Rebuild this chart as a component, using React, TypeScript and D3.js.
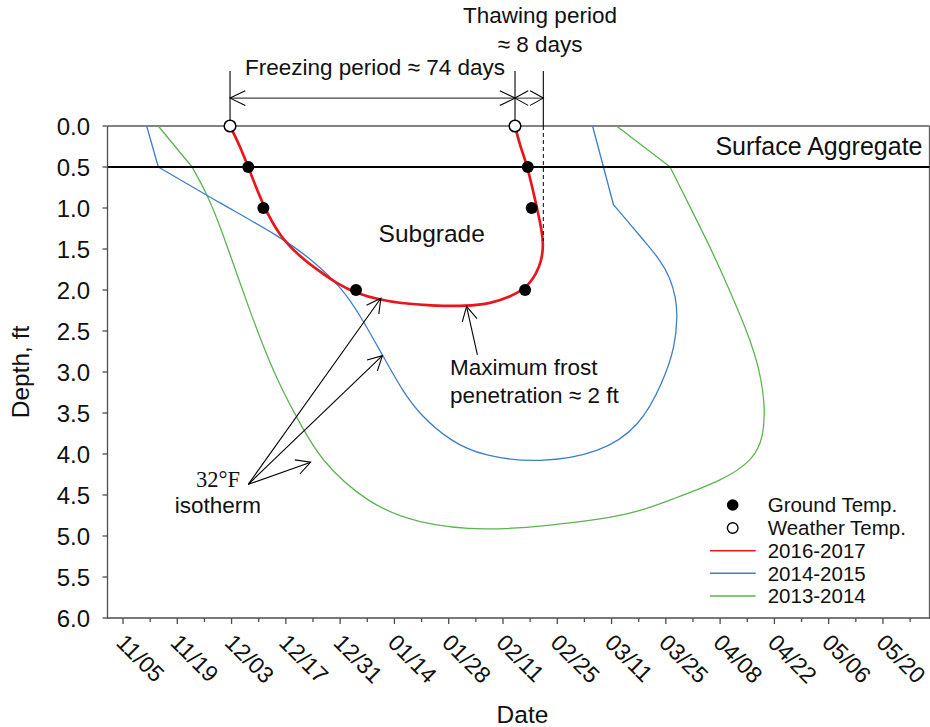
import React from "react";
import * as d3 from "d3";

// Horizontal positions are days counted from 1 November; depths are in feet.
const tickDays = [4, 18, 32, 46, 60, 74, 88, 102, 116, 130, 144, 158, 172, 186, 200];
const tickLabels = ["11/05", "11/19", "12/03", "12/17", "12/31", "01/14", "01/28", "02/11", "02/25", "03/11", "03/25", "04/08", "04/22", "05/06", "05/20"];
const minorTickDays = [11, 25, 39, 53, 67, 81, 95, 109, 123, 137, 151, 165, 179, 193, 207];
const depthTicks = [0, 0.5, 1, 1.5, 2, 2.5, 3, 3.5, 4, 4.5, 5, 5.5, 6];

// 32°F isotherm, 2016-2017
const iso2016Days = [31.6, 34.2, 36.3, 40.2, 44.5, 49.6, 54.3, 59.1, 64.1, 70.3, 75.4, 83.2, 92.6, 99.2, 103.8, 107.7, 110.7, 112.0, 112.4, 112.1, 110.3, 108.1, 106.4, 105.1];
const iso2016Depths = [0, 0.25, 0.5, 0.98, 1.35, 1.59, 1.76, 1.92, 2.04, 2.12, 2.16, 2.19, 2.2, 2.16, 2.08, 1.99, 1.8, 1.63, 1.45, 1.29, 0.9, 0.455, 0.244, 0];
const iso2016Corners = [0, 23];

// 32°F isotherm, 2014-2015
const iso2014Days = [10.1, 13.1, 29.0, 44.5, 52.2, 60.7, 65.9, 71.1, 76.2, 80.6, 88.3, 96.9, 111.6, 127.0, 137.3, 143.3, 146.4, 147.0, 146.6, 145.1, 142.5, 138.2, 134.3, 130.5, 125.1];
const iso2014Depths = [0, 0.5, 0.94, 1.35, 1.61, 1.98, 2.37, 2.81, 3.24, 3.52, 3.84, 4.03, 4.11, 3.99, 3.67, 3.12, 2.69, 2.3, 2.1, 1.85, 1.63, 1.39, 1.17, 0.96, 0];
const iso2014Corners = [1, 23];

// 32°F isotherm, 2013-2014
const iso2013Days = [13.1, 21.8, 25.6, 29.5, 36.8, 43.6, 49.7, 54.8, 66.9, 79.8, 97.8, 114.1, 127.0, 137.3, 145.1, 158.8, 166.6, 169.2, 169.6, 168.3, 164.9, 159.3, 155.4, 145.1, 131.3];
const iso2013Depths = [0, 0.5, 0.82, 1.27, 2.28, 3.1, 3.63, 4.07, 4.6, 4.85, 4.94, 4.87, 4.8, 4.7, 4.56, 4.32, 4.07, 3.79, 3.42, 2.98, 2.49, 1.88, 1.47, 0.5, 0];
const iso2013Corners = [1, 23];

const groundTempDays = [36.3, 40.2, 64.1, 108.4, 109.4, 107.7];
const groundTempDepths = [0.5, 1.0, 2.0, 0.5, 1.0, 2.0];
const weatherTempDays = [31.6, 105.1];
const weatherTempDepths = [0, 0];
const thawEndDay = 112.4;
const aggregateDepth = 0.5;

const seriesNames = ["2016-2017", "2014-2015", "2013-2014"];
const seriesColors = ["#e8161c", "#3d7fc6", "#5bb54f"];

const SANS = "'Liberation Sans', Arial, Helvetica, sans-serif";
const SERIF = "'Liberation Serif', 'Times New Roman', serif";

type Pt = [number, number];
const zip = (a: number[], b: number[]): Pt[] => a.map((v, i) => [v, b[i]] as Pt);

// open V arrow head at (tx, ty) pointing away from (fx, fy)
function head(tx: number, ty: number, fx: number, fy: number, len = 16, deg = 28) {
  const a = Math.atan2(fy - ty, fx - tx);
  const r = (deg * Math.PI) / 180;
  const p1 = [tx + len * Math.cos(a + r), ty + len * Math.sin(a + r)];
  const p2 = [tx + len * Math.cos(a - r), ty + len * Math.sin(a - r)];
  return `M${p1[0]},${p1[1]}L${tx},${ty}L${p2[0]},${p2[1]}`;
}

export default function App() {
  const x = d3.scaleLinear().domain([0, 212]).range([107.5, 929.5]);
  const y = d3.scaleLinear().domain([0, 6]).range([126, 618]);
  const [x0, x1] = x.range();
  const [y0, y1] = y.range();

  const straight = d3
    .line<Pt>()
    .x((d) => x(d[0]))
    .y((d) => y(d[1]));
  const smooth = d3
    .line<Pt>()
    .x((d) => x(d[0]))
    .y((d) => y(d[1]))
    .curve(d3.curveBasis);

  // straight legs outside the corner points, smooth curve between them
  const isotherm = (pts: Pt[], corners: number[]) => {
    const [a, b] = corners;
    let d = "";
    if (a > 0) d += straight(pts.slice(0, a + 1)) || "";
    const mid = smooth(pts.slice(a, b + 1)) || "";
    d += a > 0 ? mid.replace(/^M/, "L") : mid;
    if (b < pts.length - 1) d += (straight(pts.slice(b)) || "").replace(/^M[^L]*/, "");
    return d;
  };

  const paths = [
    isotherm(zip(iso2016Days, iso2016Depths), iso2016Corners),
    isotherm(zip(iso2014Days, iso2014Depths), iso2014Corners),
    isotherm(zip(iso2013Days, iso2013Depths), iso2013Corners),
  ];

  // annotation geometry in data units
  const arrowDepth = -0.34;
  const guideTopDepth = -0.67;
  const isoFrom: Pt = [36.3, 4.37];
  const isoTips: Pt[] = [[70.5, 2.1], [70.9, 2.8], [52.4, 4.1]];
  const frostFrom: Pt = [95.4, 2.79];
  const frostTip: Pt = [92.6, 2.2];

  const fx = x(weatherTempDays[0]);
  const tx = x(weatherTempDays[1]);
  const ex = x(thawEndDay);
  const ay = y(arrowDepth);
  const gy = y(guideTopDepth);

  const legendRows = [505, 528, 550.7, 573.3, 596];

  return (
    <svg
      width={930}
      height={727}
      style={{ position: "absolute", left: 0, top: 0, background: "#fff" }}
      fontFamily={SANS}
    >
      {/* frame */}
      <line x1={x0} x2={x1} y1={y0} y2={y0} stroke="#5a5a5a" strokeWidth={1.3} />
      <line x1={x1} x2={x1} y1={y0} y2={y1} stroke="#5a5a5a" strokeWidth={1.3} />

      {/* isotherm curves */}
      <path d={paths[2]} fill="none" stroke={seriesColors[2]} strokeWidth={1.3} strokeLinejoin="round" />
      <path d={paths[1]} fill="none" stroke={seriesColors[1]} strokeWidth={1.3} strokeLinejoin="round" />

      {/* surface aggregate boundary */}
      <line x1={x0} x2={x1} y1={y(aggregateDepth)} y2={y(aggregateDepth)} stroke="#000" strokeWidth={2} />
      <text x={922.5} y={155} fontSize={25} textAnchor="end" fill="#111">Surface Aggregate</text>

      <path d={paths[0]} fill="none" stroke={seriesColors[0]} strokeWidth={2.7} />

      {/* axes */}
      <line x1={x0} x2={x0} y1={y0} y2={y1 + 0.6} stroke="#4d4d4d" strokeWidth={1.3} />
      <line x1={x0 - 0.6} x2={x1 + 0.6} y1={y1} y2={y1} stroke="#4d4d4d" strokeWidth={1.3} />
      {depthTicks.map((d) => (
        <g key={"yt" + d}>
          <line x1={x0 - 5} x2={x0} y1={y(d)} y2={y(d)} stroke="#4d4d4d" strokeWidth={1.3} />
          <text x={90} y={y(d)} dy="0.36em" fontSize={24} textAnchor="end" fill="#111">
            {d.toFixed(1)}
          </text>
        </g>
      ))}
      {tickDays.map((d, i) => (
        <g key={"xt" + d}>
          <line x1={x(d)} x2={x(d)} y1={y1} y2={y1 + 6} stroke="#4d4d4d" strokeWidth={1.3} />
          <text transform={`translate(${x(d) - 8},${644}) rotate(45)`} fontSize={23} fill="#111">
            {tickLabels[i]}
          </text>
        </g>
      ))}
      {minorTickDays.map((d) => (
        <line key={"mt" + d} x1={x(d)} x2={x(d)} y1={y1} y2={y1 + 4} stroke="#4d4d4d" strokeWidth={1.3} />
      ))}
      <text x={522.5} y={723} fontSize={24.5} textAnchor="middle" fill="#111">Date</text>
      <text transform={`translate(29,${(y0 + y1) / 2}) rotate(-90)`} fontSize={24.5} textAnchor="middle" fill="#111">
        Depth, ft
      </text>

      {/* freezing / thawing period guides */}
      <line x1={fx} x2={fx} y1={gy} y2={y(0) - 6} stroke="#000" strokeWidth={1.1} />
      <line x1={tx} x2={tx} y1={gy} y2={y(0) - 6} stroke="#000" strokeWidth={1.1} />
      <line x1={ex} x2={ex} y1={gy} y2={y(0)} stroke="#000" strokeWidth={1.1} />
      <line x1={ex} x2={ex} y1={y(0)} y2={y(1.4)} stroke="#000" strokeWidth={1} strokeDasharray="4,3" />
      <line x1={fx} x2={tx} y1={ay} y2={ay} stroke="#444" strokeWidth={1.1} />
      <line x1={tx} x2={ex} y1={ay} y2={ay} stroke="#444" strokeWidth={1.1} />
      <path d={head(fx, ay, tx, ay, 17, 26)} fill="none" stroke="#000" strokeWidth={1.1} />
      <path d={head(tx, ay, fx, ay, 17, 26)} fill="none" stroke="#000" strokeWidth={1.1} />
      <path d={head(tx, ay, ex, ay, 15, 29)} fill="none" stroke="#000" strokeWidth={1.1} />
      <path d={head(ex, ay, tx, ay, 15, 29)} fill="none" stroke="#000" strokeWidth={1.1} />
      <text x={375} y={75} fontSize={22.5} textAnchor="middle" fill="#111">Freezing period ≈ 74 days</text>
      <text x={540} y={23.3} fontSize={22.5} textAnchor="middle" fill="#111">Thawing period</text>
      <text x={540} y={51.7} fontSize={22.5} textAnchor="middle" fill="#111">≈ 8 days</text>

      <text x={431.7} y={242} fontSize={24.5} textAnchor="middle" fill="#111">Subgrade</text>

      {/* isotherm call-out */}
      {isoTips.map((t, i) => (
        <g key={"iso" + i}>
          <line x1={x(isoFrom[0])} y1={y(isoFrom[1])} x2={x(t[0])} y2={y(t[1])} stroke="#000" strokeWidth={1.1} />
          <path d={head(x(t[0]), y(t[1]), x(isoFrom[0]), y(isoFrom[1]))} fill="none" stroke="#000" strokeWidth={1.1} />
        </g>
      ))}
      <text x={218} y={487.3} fontSize={22.5} fontFamily={SERIF} textAnchor="middle" fill="#111">32°F</text>
      <text x={217.8} y={513} fontSize={22.5} textAnchor="middle" fill="#111">isotherm</text>

      {/* maximum frost penetration call-out */}
      <line x1={x(frostFrom[0])} y1={y(frostFrom[1])} x2={x(frostTip[0])} y2={y(frostTip[1])} stroke="#000" strokeWidth={1.1} />
      <path d={head(x(frostTip[0]), y(frostTip[1]), x(frostFrom[0]), y(frostFrom[1]))} fill="none" stroke="#000" strokeWidth={1.1} />
      <text x={450} y={375} fontSize={22.5} fill="#111">Maximum frost</text>
      <text x={450} y={403.3} fontSize={22.5} fill="#111">penetration ≈ 2 ft</text>

      {/* temperature readings */}
      {groundTempDays.map((d, i) => (
        <circle key={"g" + i} cx={x(d)} cy={y(groundTempDepths[i])} r={6} fill="#000" />
      ))}
      {weatherTempDays.map((d, i) => (
        <circle key={"w" + i} cx={x(d)} cy={y(weatherTempDepths[i])} r={5.8} fill="#fff" stroke="#000" strokeWidth={1.5} />
      ))}

      {/* legend */}
      <circle cx={732.7} cy={legendRows[0]} r={5.8} fill="#000" />
      <circle cx={732.7} cy={legendRows[1]} r={5.3} fill="#fff" stroke="#000" strokeWidth={1.4} />
      {seriesNames.map((n, i) => (
        <line key={"ll" + n} x1={710} x2={755.7} y1={legendRows[i + 2]} y2={legendRows[i + 2]} stroke={seriesColors[i]} strokeWidth={1.6} />
      ))}
      {["Ground Temp.", "Weather Temp.", ...seriesNames].map((t, i) => (
        <text key={"lt" + t} x={767.7} y={legendRows[i]} dy="0.36em" fontSize={20.5} fill="#111">
          {t}
        </text>
      ))}
    </svg>
  );
}
